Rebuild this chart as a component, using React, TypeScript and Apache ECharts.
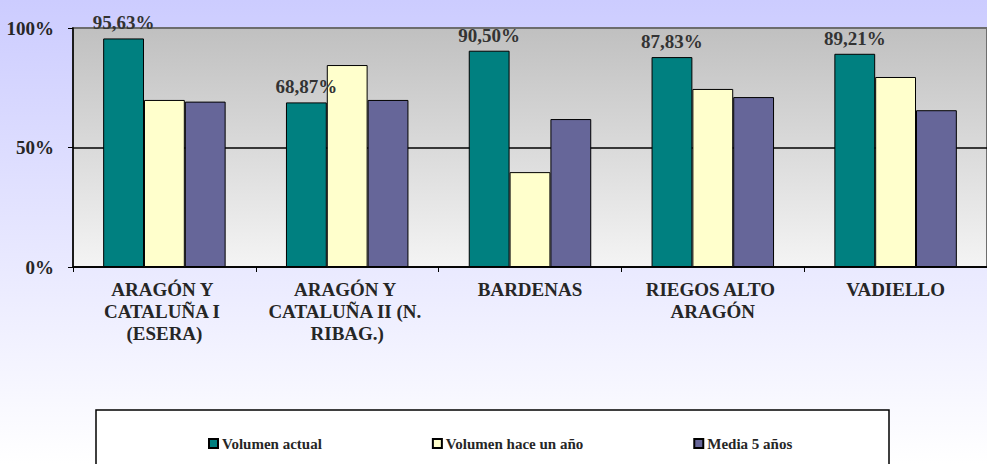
import React, { useEffect, useRef } from "react";
import * as echarts from "echarts";

const categories = [
  "ARAGÓN Y CATALUÑA I (ESERA)",
  "ARAGÓN Y CATALUÑA II (N. RIBAG.)",
  "BARDENAS",
  "RIEGOS ALTO ARAGÓN",
  "VADIELLO",
];
const seriesNames = ["Volumen actual", "Volumen hace un año", "Media 5 años"];
const volumenActual = [95.63, 68.87, 90.5, 87.83, 89.21];
const volumenHaceUnAno = [69.9, 84.5, 39.7, 74.5, 79.5];
const media5Anos = [69.2, 69.9, 61.9, 71.1, 65.6];
const yTicks = [0, 50, 100];

const FONT = "Liberation Serif";
const TEXT = "#262626";

export default function App() {
  const ref = useRef<HTMLDivElement>(null);

  useEffect(() => {
    if (!ref.current) return;
    const chart = echarts.init(ref.current, null, { renderer: "svg" });
    const colors = ["#008080", "#FFFFCC", "#666699"];
    const values = [volumenActual, volumenHaceUnAno, media5Anos];

    chart.setOption({
      animation: false,
      backgroundColor: {
        type: "linear",
        x: 0,
        y: 0,
        x2: 0,
        y2: 1,
        colorStops: [
          { offset: 0, color: "#ccccff" },
          { offset: 1, color: "#ffffff" },
        ],
      },
      textStyle: { fontFamily: FONT, fontWeight: "bold" },
      grid: {
        left: 73,
        top: 28,
        width: 922,
        height: 239,
        show: true,
        borderColor: "#6e6e6e",
        borderWidth: 2,
        backgroundColor: {
          type: "linear",
          x: 0,
          y: 0,
          x2: 0,
          y2: 1,
          colorStops: [
            { offset: 0, color: "#c0c0c0" },
            { offset: 1, color: "#f4f4f4" },
          ],
        },
      },
      graphic: [
        {
          type: "rect",
          z: 0,
          shape: { x: 96, y: 410, width: 793, height: 80 },
          style: { fill: "#ffffff", stroke: "#000000", lineWidth: 1.5 },
        },
      ],
      legend: {
        z: 10,
        left: 203,
        top: 431,
        itemGap: 110,
        itemWidth: 9,
        itemHeight: 9,
        icon: "rect",
        data: seriesNames,
        textStyle: {
          fontFamily: FONT,
          fontWeight: "bold",
          fontSize: 15,
          color: TEXT,
          padding: [0, 0, 0, -1],
        },
      },
      xAxis: {
        type: "category",
        data: categories,
        axisLine: { lineStyle: { color: "#000", width: 1.5 } },
        axisTick: { show: true, length: 5, lineStyle: { color: "#000" } },
        axisLabel: {
          margin: 11,
          interval: 0,
          width: 172,
          overflow: "break",
          lineHeight: 22,
          fontFamily: FONT,
          fontWeight: "bold",
          fontSize: 19,
          color: TEXT,
          align: "center",
        },
      },
      yAxis: {
        type: "value",
        min: yTicks[0],
        max: yTicks[yTicks.length - 1],
        interval: yTicks[1] - yTicks[0],
        axisLine: { show: true, lineStyle: { color: "#000", width: 1.5 } },
        axisTick: { show: true, length: 5, lineStyle: { color: "#000" } },
        splitLine: {
          show: true,
          lineStyle: { color: ["#000", "#000", "#6e6e6e"], width: 1.5 },
        },
        axisLabel: {
          margin: 19,
          formatter: "{value}%",
          fontFamily: FONT,
          fontWeight: "bold",
          fontSize: 19,
          color: TEXT,
        },
      },
      series: seriesNames.map((name, i) => ({
        name,
        type: "bar",
        data: values[i],
        barGap: "0%",
        barCategoryGap: "33%",
        itemStyle: { color: colors[i], borderColor: "#000", borderWidth: 1 },
        label:
          i === 0
            ? {
                show: true,
                position: "top",
                distance: 6,
                fontFamily: FONT,
                fontWeight: "bold",
                fontSize: 19,
                color: "#333",
                formatter: (p: any) =>
                  p.value.toFixed(2).replace(".", ",") + "%",
              }
            : { show: false },
      })),
    });

    return () => chart.dispose();
  }, []);

  return (
    <div
      ref={ref}
      style={{ position: "fixed", left: 0, top: 0, width: 987, height: 464 }}
    />
  );
}
